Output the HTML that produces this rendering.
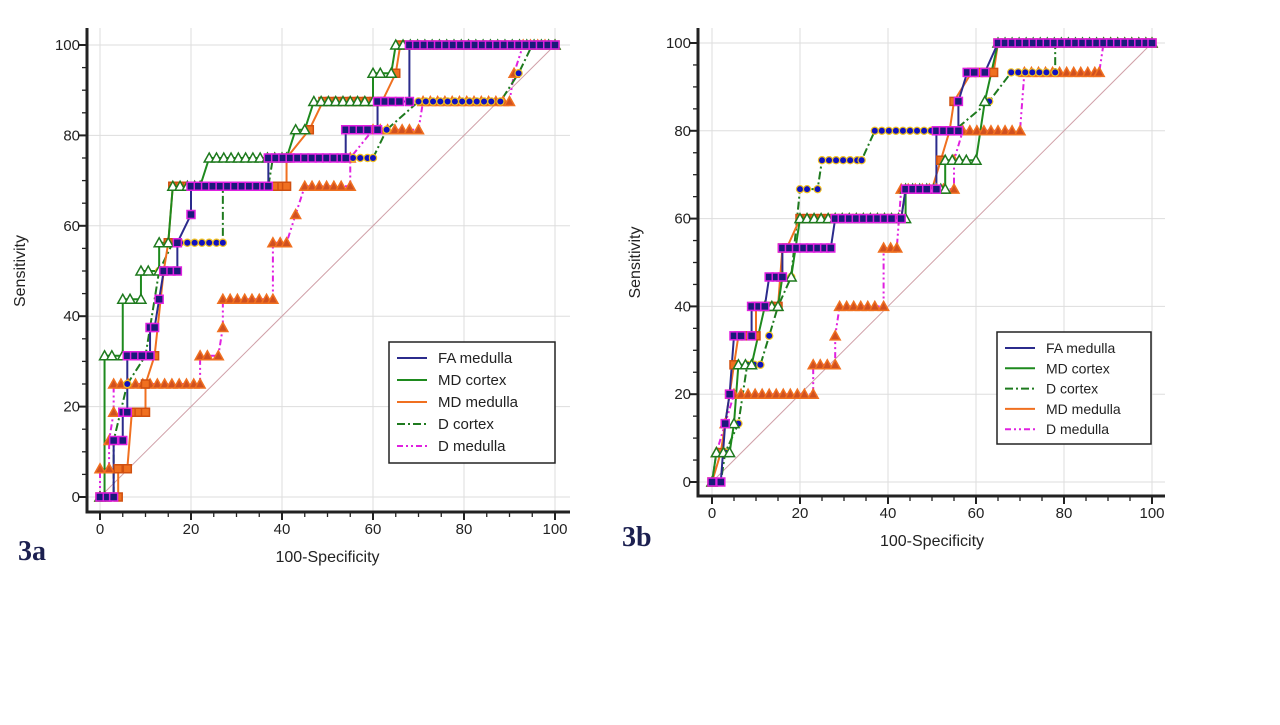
<!DOCTYPE html>
<html><head><meta charset="utf-8"><style>
body{margin:0;background:#fff;width:1280px;height:720px;overflow:hidden;font-family:"Liberation Sans",sans-serif}
svg text{font-family:"Liberation Sans",sans-serif}
</style></head><body>
<svg id="s" width="1280" height="720">
<rect width="1280" height="720" fill="#fff"/>
<text x="18" y="560" font-family="Liberation Serif" font-weight="bold" font-size="28" fill="#1c2050" style="font-family:'Liberation Serif',serif">3a</text>
<text x="622" y="546" font-family="Liberation Serif" font-weight="bold" font-size="28" fill="#1c2050" style="font-family:'Liberation Serif',serif">3b</text>
</svg>
<script>
const ticks=[0,20,40,60,80,100];
const seriesNames=["FA medulla","MD cortex","MD medulla","D cortex","D medulla"];
const namesB=["FA medulla","MD cortex","D cortex","MD medulla","D medulla"];
// panel 3a ROC points [100-specificity, sensitivity]
const a_fa=[[0,0],[3,0],[3,12.5],[5,12.5],[5,18.75],[6,18.75],[6,31.25],[11,31.25],[11,37.5],[12,37.5],[13,43.75],[14,50],[17,50],[17,56.25],[20,62.5],[20,68.75],[37,68.75],[37,75],[54,75],[54,81.25],[61,81.25],[61,87.5],[68,87.5],[68,100],[100,100]];
const a_mdc=[[0,0],[1,0],[1,31.25],[5,31.25],[5,43.75],[9,43.75],[9,50],[13,50],[13,56.25],[15,56.25],[16,68.75],[22,68.75],[24,75],[41,75],[43,81.25],[45,81.25],[47,87.5],[60,87.5],[60,93.75],[64,93.75],[65,100],[100,100]];
const a_mdm=[[0,0],[4,0],[4,6.25],[6,6.25],[7,18.75],[10,18.75],[10,25],[12,31.25],[14,50],[15,56.25],[16,68.75],[41,68.75],[41,75],[46,81.25],[49,87.5],[62,87.5],[65,93.75],[66,100],[100,100]];
const a_dc=[[0,0],[3,0],[3,12.5],[6,25],[10,31.25],[13,50],[16,56.25],[27,56.25],[27,68.75],[37,68.75],[38,75],[60,75],[63,81.25],[70,87.5],[88,87.5],[92,93.75],[95,100],[100,100]];
const a_dm=[[0,0],[0,6.25],[2,6.25],[2,12.5],[3,18.75],[3,25],[22,25],[22,31.25],[26,31.25],[27,37.5],[27,43.75],[38,43.75],[38,56.25],[41,56.25],[43,62.5],[45,68.75],[55,68.75],[55,75],[60,81.25],[70,81.25],[71,87.5],[90,87.5],[91,93.75],[93,100],[100,100]];
// panel 3b
const b_fa=[[0,0],[2,0],[3,13.3],[4,20],[5,33.3],[9,33.3],[9,40],[12,40],[13,46.7],[16,46.7],[16,53.3],[27,53.3],[28,60],[43,60],[44,66.7],[51,66.7],[51,80],[56,80],[56,86.7],[58,93.3],[62,93.3],[65,100],[100,100]];
const b_mdc=[[0,0],[1,6.7],[4,6.7],[5,13.3],[6,26.7],[9,26.7],[12,40],[15,40],[16,46.7],[18,46.7],[20,60],[44,60],[44,66.7],[53,66.7],[53,73.3],[60,73.3],[62,86.7],[65,100],[100,100]];
const b_dc=[[0,0],[2,0],[3,6.7],[6,13.3],[8,26.7],[11,26.7],[13,33.3],[15,40],[18,46.7],[20,66.7],[24,66.7],[25,73.3],[34,73.3],[37,80],[45,80],[55,80],[63,86.7],[68,93.3],[78,93.3],[78,100],[100,100]];
const b_mdm=[[0,0],[2,6.7],[4,20],[5,26.7],[6,33.3],[10,33.3],[10,40],[15,40],[16,53.3],[17,53.3],[20,60],[43,60],[44,66.7],[50,66.7],[52,73.3],[54,80],[55,86.7],[59,93.3],[64,93.3],[65,100],[100,100]];
const b_dm=[[0,0],[1,6.7],[3,13.3],[5,20],[23,20],[23,26.7],[28,26.7],[28,33.3],[29,40],[39,40],[39,53.3],[42,53.3],[43,66.7],[55,66.7],[55,73.3],[57,80],[70,80],[71,93.3],[88,93.3],[89,100],[100,100]];

const NS="http://www.w3.org/2000/svg";
const svg=document.getElementById('s');
function mk(t,a,p){const e=document.createElementNS(NS,t);for(const k in a)e.setAttribute(k,a[k]);(p||svg).appendChild(e);return e;}
const styles={
 fa:{c:"#2b2b8c",dash:"",m:"sq",fill:"#1a1a7a",stroke:"#e020e0"},
 mdc:{c:"#1e8a1e",dash:"",m:"tri",fill:"#fff",stroke:"#1e7a1e"},
 mdm:{c:"#f07020",dash:"",m:"sq",fill:"#f07020",stroke:"#d05010"},
 dc:{c:"#1e7a1e",dash:"8,3,2,3",m:"circ",fill:"#1010c0",stroke:"#f0c020"},
 dm:{c:"#e020e0",dash:"6,3,2,3,2,3",m:"tri",fill:"#d05020",stroke:"#f07020"}
};
function panel(P){
 const g=mk('g',{});
 
 
 const X=v=>P.x0+(P.x1-P.x0)*v/100, Y=v=>P.y0-(P.y0-P.y1)*v/100;
 ticks.forEach(t=>{
  const gx=mk('line',{x1:X(t),x2:X(t),y1:P.top,y2:P.axY,stroke:"#ddd","stroke-width":1},g);
  
  const gy=mk('line',{x1:P.axX,x2:P.right,y1:Y(t),y2:Y(t),stroke:"#ddd","stroke-width":1},g);
  
  const tx=mk('text',{x:X(t),y:P.axY+22,"text-anchor":"middle","font-size":15,fill:"#222"},g);tx.textContent=t;
  
  const ty=mk('text',{x:P.axX-7,y:Y(t)+5,"text-anchor":"end","font-size":15,fill:"#222"},g);ty.textContent=t;
  
 });
 for(let t=0;t<=100;t+=5){const big=t%20==0;
  mk('line',{x1:X(t),x2:X(t),y1:P.axY,y2:P.axY+(big?8:5),stroke:"#222","stroke-width":big?2:1.3},g);
  mk('line',{x1:P.axX-(big?8:5),x2:P.axX,y1:Y(t),y2:Y(t),stroke:"#222","stroke-width":big?2:1.3},g);}
 mk('line',{x1:X(0),y1:Y(0),x2:X(100),y2:Y(100),stroke:"#d0a0a8","stroke-width":1},g);
 const ax=mk('path',{d:`M${P.axX},${P.top}V${P.axY}H${P.right}`,fill:"none",stroke:"#222","stroke-width":3},g);
 
 P.series.forEach(([key,data])=>{
  const st=styles[key];
  const pl=mk('polyline',{points:data.map(p=>X(p[0])+","+Y(p[1])).join(" "),fill:"none",stroke:st.c,"stroke-width":2,"stroke-dasharray":st.dash},g);
  
 });
 P.series.forEach(([key,data])=>{
  const st=styles[key];
  const pts=[];
  for(let i=0;i<data.length;i++){
   const p=data[i];
   pts.push(p);
   if(i<data.length-1&&data[i+1][1]==p[1]){for(let x=p[0]+1.6;x<data[i+1][0]-0.8;x+=1.6)pts.push([x,p[1]]);}
  }
  pts.forEach(p=>{const cx=X(p[0]),cy=Y(p[1]);let m;
   if(st.m=="sq")m=mk('rect',{x:cx-4,y:cy-4,width:8,height:8,fill:st.fill,stroke:st.stroke,"stroke-width":1.5},g);
   else if(st.m=="tri")m=mk('path',{d:`M${cx},${cy-5}L${cx+5},${cy+4}L${cx-5},${cy+4}Z`,fill:st.fill,stroke:st.stroke,"stroke-width":1.5},g);
   else m=mk('circle',{cx:cx,cy:cy,r:3.6,fill:st.fill,stroke:st.stroke,"stroke-width":1.2},g);
   });
 });
 const xt=mk('text',{x:(P.x0+P.x1)/2,y:P.axY+50,"text-anchor":"middle","font-size":16,fill:"#222"},g);xt.textContent="100-Specificity";
 
 const yt=mk('text',{x:0,y:0,transform:`translate(${P.ytx},${(P.y0+P.y1)/2}) rotate(-90)`,"text-anchor":"middle","font-size":16,fill:"#222"},g);yt.textContent="Sensitivity";
 
 const L=P.leg;
 const lb=mk('rect',{x:L.x,y:L.y,width:L.w,height:L.h,fill:"#fff",stroke:"#222","stroke-width":1.5},g);
 
 P.legKeys.forEach((k,i)=>{const yy=L.y+16+i*L.dy;const st=styles[k];
  mk('line',{x1:L.x+8,x2:L.x+38,y1:yy,y2:yy,stroke:st.c,"stroke-width":2,"stroke-dasharray":st.dash},g);
  const t=mk('text',{x:L.x+49,y:yy+5,"font-size":L.fs,fill:"#222"},g);t.textContent=P.legNames[i];
  });
}
panel({name:"chart-3a",x0:100,x1:555,y0:497,y1:45,axX:87,axY:512,top:28,right:570,ytx:25,
 series:[["dm",a_dm],["dc",a_dc],["mdm",a_mdm],["mdc",a_mdc],["fa",a_fa]],
 leg:{x:389,y:342,w:166,h:121,dy:22,fs:15},legKeys:["fa","mdc","mdm","dc","dm"],legNames:seriesNames});
panel({name:"chart-3b",x0:712,x1:1152,y0:482,y1:43,axX:698,axY:496,top:28,right:1165,ytx:640,
 series:[["dm",b_dm],["dc",b_dc],["mdm",b_mdm],["mdc",b_mdc],["fa",b_fa]],
 leg:{x:997,y:332,w:154,h:112,dy:20.3,fs:14},legKeys:["fa","mdc","dc","mdm","dm"],legNames:namesB});
</script>
</body></html>
